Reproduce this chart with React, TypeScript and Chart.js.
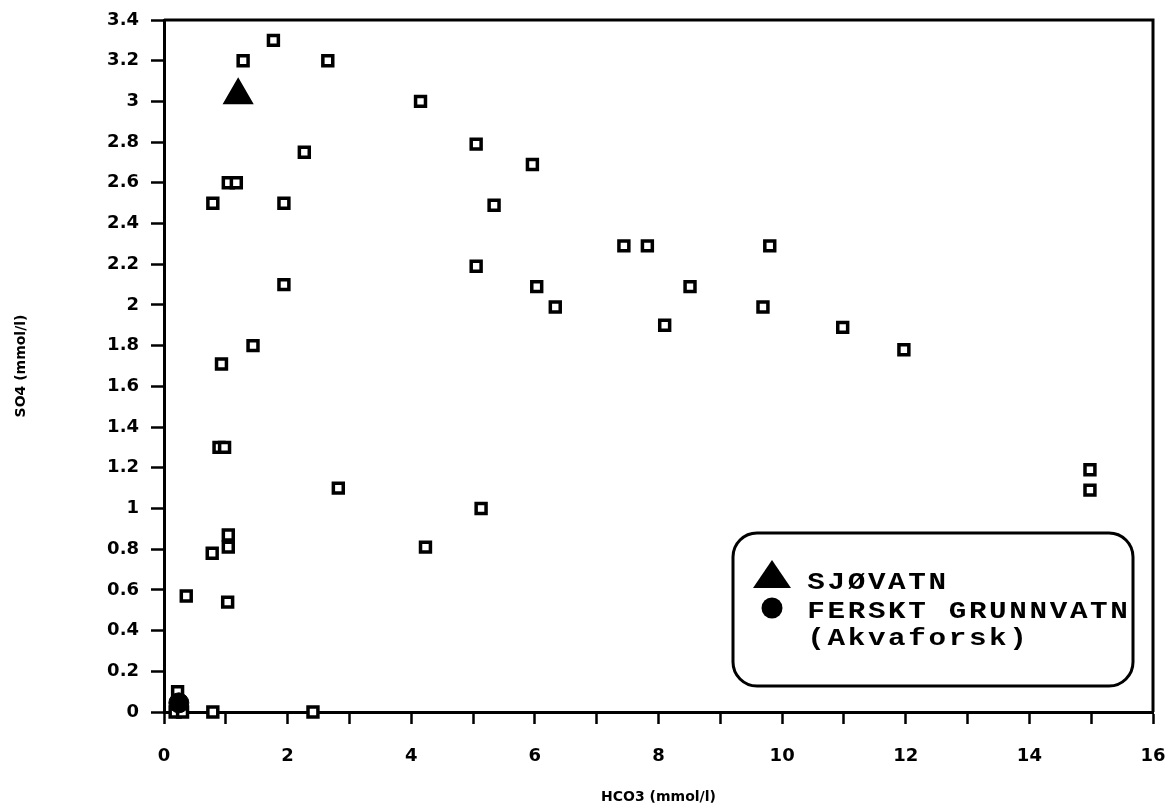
import React, { useEffect, useRef } from "react";
import { Chart, registerables } from "chart.js";

Chart.register(...registerables);

// Hollow squares (sample wells)
const squareHCO3 = [
  1.77, 1.28, 2.65, 4.15, 2.27, 1.04, 1.17, 0.79, 1.94, 5.05,
  5.96, 5.34, 7.44, 7.82, 9.8, 5.05, 1.94, 6.03, 6.33, 8.51,
  9.69, 8.1, 10.98, 11.97, 1.44, 0.93, 0.89, 0.98, 2.82, 14.98,
  14.98, 5.13, 4.23, 1.04, 1.04, 0.78, 0.36, 1.03, 0.22, 0.18,
  0.3, 0.79, 2.41,
];
const squareSO4 = [
  3.3, 3.2, 3.2, 3.0, 2.75, 2.6, 2.6, 2.5, 2.5, 2.79,
  2.69, 2.49, 2.29, 2.29, 2.29, 2.19, 2.1, 2.09, 1.99, 2.09,
  1.99, 1.9, 1.89, 1.78, 1.8, 1.71, 1.3, 1.3, 1.1, 1.19,
  1.09, 1.0, 0.81, 0.87, 0.81, 0.78, 0.57, 0.54, 0.1, 0.0,
  0.0, 0.0, 0.0,
];

// SJØVATN (sea water)
const seaHCO3 = [1.2];
const seaSO4 = [3.03];

// FERSKT GRUNNVATN (Akvaforsk)
const freshHCO3 = [0.24];
const freshSO4 = [0.045];

const legendLines = ["SJØVATN", "FERSKT GRUNNVATN", "(Akvaforsk)"];
const xTitle = "HCO3 (mmol/l)";
const yTitle = "SO4 (mmol/l)";
const xMin = 0, xMax = 16, xStep = 1;
const yMin = 0, yMax = 3.4, yStep = 0.2;

const toPoints = (xs: number[], ys: number[]) => xs.map((x, i) => ({ x, y: ys[i] }));

const frameAndLegend = {
  id: "frameAndLegend",
  afterDraw(chart: any) {
    const ctx = chart.ctx as CanvasRenderingContext2D;
    const a = chart.chartArea;
    ctx.save();
    // frame top and right
    ctx.strokeStyle = "#000";
    ctx.lineWidth = 3;
    ctx.beginPath();
    ctx.moveTo(a.left, a.top);
    ctx.lineTo(a.right, a.top);
    ctx.lineTo(a.right, a.bottom);
    ctx.stroke();

    // legend box
    const bx = 733, by = 533, bw = 400, bh = 153, r = 24;
    ctx.beginPath();
    ctx.moveTo(bx + r, by);
    ctx.arcTo(bx + bw, by, bx + bw, by + bh, r);
    ctx.arcTo(bx + bw, by + bh, bx, by + bh, r);
    ctx.arcTo(bx, by + bh, bx, by, r);
    ctx.arcTo(bx, by, bx + bw, by, r);
    ctx.closePath();
    ctx.fillStyle = "#fff";
    ctx.fill();
    ctx.lineWidth = 3;
    ctx.stroke();

    // symbols
    ctx.fillStyle = "#000";
    ctx.beginPath();
    ctx.moveTo(772, 560);
    ctx.lineTo(791, 588);
    ctx.lineTo(753, 588);
    ctx.closePath();
    ctx.fill();
    ctx.beginPath();
    ctx.arc(772, 608, 10.5, 0, Math.PI * 2);
    ctx.fill();

    // text (typewriter-like, fixed advance, slightly widened glyphs)
    ctx.font = 'bold 24px "Liberation Mono"';
    ctx.textBaseline = "alphabetic";
    ctx.textAlign = "center";
    const baselines = [589, 618, 645];
    const start = 806;
    const adv = 20.2;
    legendLines.forEach((line, li) => {
      Array.from(line).forEach((c, i) => {
        ctx.save();
        ctx.translate(start + i * adv + adv / 2, baselines[li]);
        ctx.scale(1.22, 1);
        ctx.fillText(c, 0, 0);
        ctx.restore();
      });
    });
    ctx.restore();
  },
};

export default function App() {
  const ref = useRef<HTMLCanvasElement | null>(null);
  useEffect(() => {
    if (!ref.current) return;
    const tickFont = { family: '"DejaVu Sans"', size: 18, weight: "bold" as const };
    const titleFont = { family: '"DejaVu Sans"', size: 14, weight: "bold" as const };
    const chart = new Chart(ref.current, {
      type: "scatter",
      data: {
        datasets: [
          {
            label: "FERSKT GRUNNVATN (Akvaforsk)",
            data: toPoints(freshHCO3, freshSO4),
            pointStyle: "circle",
            pointRadius: 10,
            backgroundColor: "#000",
            borderColor: "#000",
            borderWidth: 1,
            clip: false,
          },
          {
            label: "SJØVATN",
            data: toPoints(seaHCO3, seaSO4),
            pointStyle: "triangle",
            pointRadius: 16,
            backgroundColor: "#000",
            borderColor: "#000",
            borderWidth: 2,
            clip: false,
          },
          {
            label: "Prøver",
            data: toPoints(squareHCO3, squareSO4),
            pointStyle: "rect",
            pointRadius: 7,
            backgroundColor: "#fff",
            borderColor: "#000",
            borderWidth: 3.5,
            clip: false,
          },
        ],
      },
      options: {
        responsive: false,
        animation: false,
        events: [],
        layout: { padding: { left: 0, top: 20, right: 17, bottom: 0 } },
        plugins: {
          legend: { display: false },
          tooltip: { enabled: false },
          title: { display: false },
        },
        scales: {
          x: {
            type: "linear",
            min: xMin,
            max: xMax,
            ticks: {
              stepSize: xStep,
              color: "#000",
              font: tickFont,
              padding: 22,
              maxRotation: 0,
              autoSkip: false,
              callback: (v: any) => (Number(v) % 2 === 0 ? String(v) : ""),
            },
            grid: {
              drawOnChartArea: false,
              drawTicks: true,
              tickLength: 12,
              tickColor: "#000",
              tickWidth: 2.5,
            },
            border: { display: true, color: "#000", width: 3 },
            title: {
              display: true,
              text: xTitle,
              color: "#000",
              font: titleFont,
              padding: { top: 0, bottom: 6 },
            },
            afterFit: (s: any) => {
              s.height = 100;
              s.paddingLeft = 0;
              s.paddingRight = 0;
            },
          },
          y: {
            type: "linear",
            min: yMin,
            max: yMax,
            ticks: {
              stepSize: yStep,
              color: "#000",
              font: tickFont,
              padding: 12,
              autoSkip: false,
              callback: (v: any) => String(Number(Number(v).toFixed(1))),
            },
            grid: {
              drawOnChartArea: false,
              drawTicks: true,
              tickLength: 13,
              tickColor: "#000",
              tickWidth: 2.5,
            },
            border: { display: true, color: "#000", width: 3 },
            title: {
              display: true,
              text: yTitle,
              color: "#000",
              font: titleFont,
              padding: { top: 13, bottom: 0 },
            },
            afterFit: (s: any) => {
              s.width = 164;
              s.paddingTop = 0;
              s.paddingBottom = 0;
            },
          },
        },
      },
      plugins: [frameAndLegend],
    });
    return () => chart.destroy();
  }, []);
  return (
    <div style={{ position: "absolute", left: 0, top: 0, width: 1171, height: 812, background: "#fff" }}>
      <canvas ref={ref} width={1171} height={812} style={{ display: "block" }} />
    </div>
  );
}
